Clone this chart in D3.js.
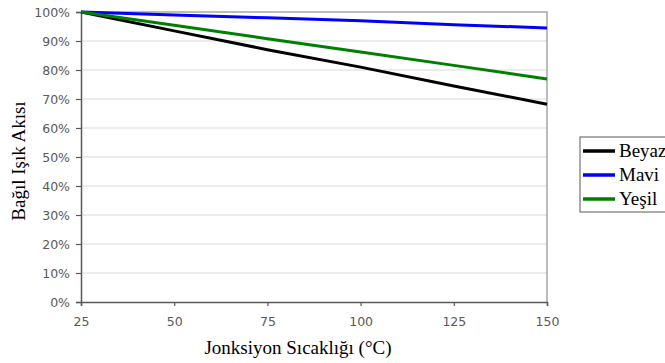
<!DOCTYPE html>
<html>
<head>
<meta charset="utf-8">
<script src="https://cdn.jsdelivr.net/npm/d3@7"></script>
<style>
  body { margin: 0; background: #fff; }
  svg { display: block; }
</style>
</head>
<body>
<script>
// Data
const temps = [25, 50, 75, 100, 125, 150];
const beyaz = [100, 93.5, 87, 81, 74.5, 68.2];
const mavi = [100, 99, 98, 97, 95.6, 94.5];
const yesil = [100, 95.4, 90.8, 86.2, 81.6, 76.9];
const seriesNames = ['Beyaz', 'Mavi', 'Yeşil'];
const seriesColors = ['#000000', '#0000ff', '#008000'];
const yTicks = [0, 10, 20, 30, 40, 50, 60, 70, 80, 90, 100];

// Constants
const width = 665;
const height = 363;
const margin = { left: 81, right: 118, top: 12, bottom: 61 };
const serif = '"Liberation Serif", "Times New Roman", Times, serif';

const svg = d3.select('body')
    .append('svg')
    .attr('width', width)
    .attr('height', height);

const x = d3.scaleLinear()
    .domain([25, 150])
    .range([margin.left, width - margin.right]);

const y = d3.scaleLinear()
    .domain([0, 100])
    .range([height - margin.bottom, margin.top]);

// Gridlines
svg.append('g')
    .selectAll('line')
    .data(yTicks.slice(1, -1))
    .join('line')
    .attr('x1', x(25))
    .attr('x2', x(150))
    .attr('y1', d => y(d))
    .attr('y2', d => y(d))
    .attr('stroke', '#d9d9d9')
    .attr('stroke-width', 1);

// Top and right border
svg.append('path')
    .attr('d', `M${x(25)},${y(100)}H${x(150)}V${y(0)}`)
    .attr('fill', 'none')
    .attr('stroke', '#a6a6a6')
    .attr('stroke-width', 1.5);

// Axes
const xAxis = svg.append('g')
    .attr('transform', `translate(0,${y(0)})`)
    .call(d3.axisBottom(x).tickValues(temps).tickSize(4).tickPadding(11));

const yAxis = svg.append('g')
    .attr('transform', `translate(${x(25)},0)`)
    .call(d3.axisLeft(y).tickValues(yTicks).tickSize(5).tickPadding(6).tickFormat(d => d + '%'));

[xAxis, yAxis].forEach(a => {
    a.select('.domain').attr('stroke', '#595959').attr('stroke-width', 1.5);
    a.selectAll('.tick line').attr('stroke', '#595959').attr('stroke-width', 1.2);
    a.selectAll('.tick text')
        .attr('fill', '#595959')
        .style('font-family', '"DejaVu Sans", Verdana, sans-serif')
        .style('font-size', '12.5px');
});

// Lines
const allSeries = [beyaz, mavi, yesil];
const line = d3.line()
    .x((d, i) => x(temps[i]))
    .y(d => y(d));

svg.append('g')
    .selectAll('path')
    .data(allSeries)
    .join('path')
    .attr('d', d => line(d))
    .attr('fill', 'none')
    .attr('stroke', (d, i) => seriesColors[i])
    .attr('stroke-width', 3);

// Axis titles
svg.append('text')
    .attr('x', 298)
    .attr('y', 354)
    .attr('text-anchor', 'middle')
    .style('font-family', serif)
    .style('font-size', '19px')
    .text('Jonksiyon Sıcaklığı (°C)');

svg.append('text')
    .attr('transform', `translate(25,161) rotate(-90)`)
    .attr('text-anchor', 'middle')
    .style('font-family', serif)
    .style('font-size', '19px')
    .text('Bağıl Işık Akısı');

// Legend
const legend = svg.append('g').attr('transform', 'translate(580,137)');
legend.append('rect')
    .attr('width', 100)
    .attr('height', 75)
    .attr('fill', '#fff')
    .attr('stroke', '#595959')
    .attr('stroke-width', 1);

const item = legend.selectAll('g.item')
    .data(seriesNames)
    .join('g')
    .attr('class', 'item')
    .attr('transform', (d, i) => `translate(0,${14 + i * 24})`);

item.append('line')
    .attr('x1', 3)
    .attr('x2', 35)
    .attr('stroke', (d, i) => seriesColors[i])
    .attr('stroke-width', 3.5);

item.append('text')
    .attr('x', 39)
    .attr('y', 6)
    .style('font-family', serif)
    .style('font-size', '19px')
    .text(d => d);
</script>
</body>
</html>
